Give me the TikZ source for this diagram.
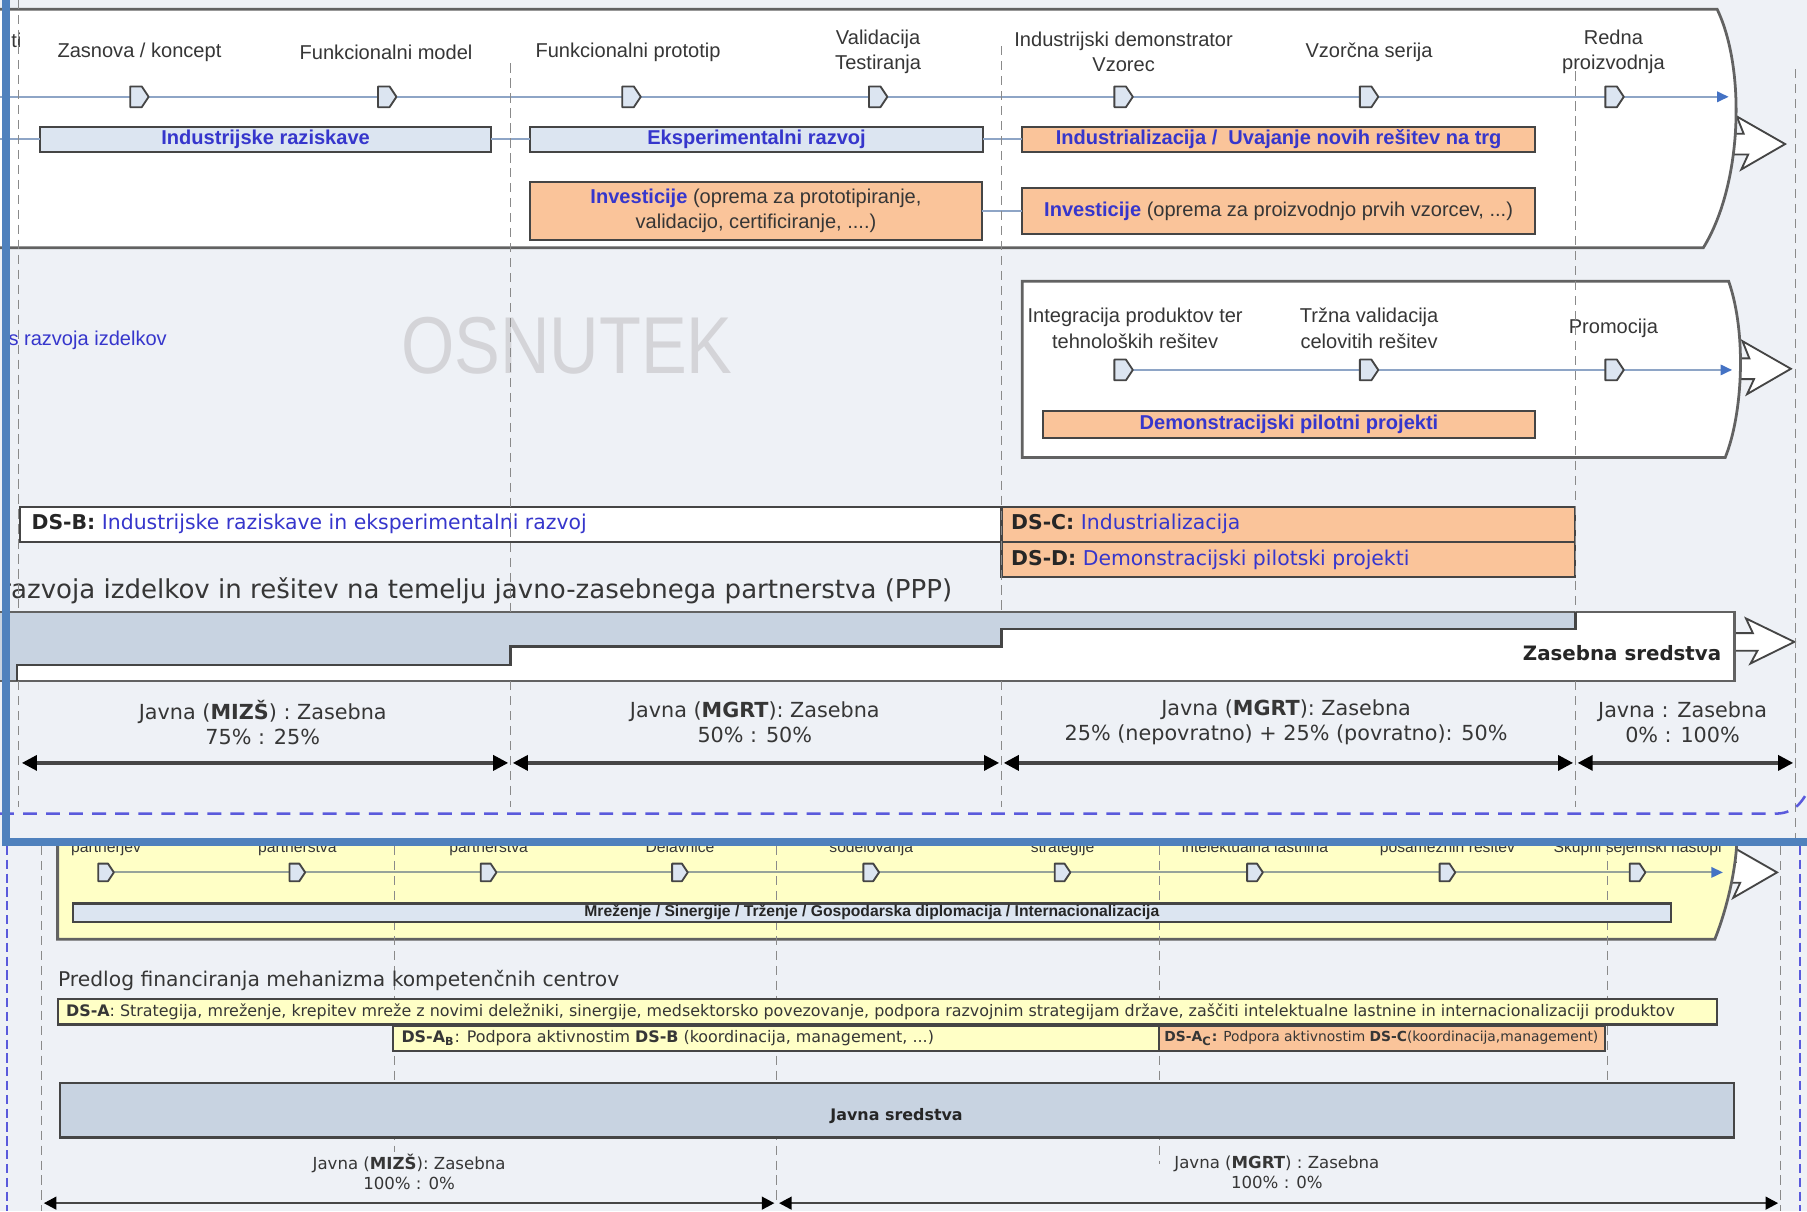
\documentclass[tikz,border=0pt]{standalone}
\usepackage{fontspec}
\setmainfont{Liberation Sans}
\newfontfamily\vf{DejaVu Sans}
\usetikzlibrary{arrows.meta}
\definecolor{bg}{HTML}{EEF1F6}
\definecolor{dk}{HTML}{454545}
\definecolor{bd}{HTML}{626262}
\definecolor{peach}{HTML}{FAC49A}
\definecolor{lbl}{HTML}{DCE5F1}
\definecolor{gb}{HTML}{C8D3E1}
\definecolor{bl}{HTML}{3636CC}
\definecolor{tx}{HTML}{363636}
\definecolor{tl}{HTML}{8EA5C6}
\definecolor{tlb}{HTML}{97A39A}
\definecolor{tla}{HTML}{4472C4}
\definecolor{frm}{HTML}{4F81BD}
\definecolor{vio}{HTML}{5A5ADC}
\definecolor{yel}{HTML}{FFFFC6}
\definecolor{dsh}{HTML}{8A8A8A}
\definecolor{wm}{HTML}{D4D4D8}
\tikzset{
  box/.style={draw=dk, line width=0.9pt, inner sep=0pt, outer sep=0pt},
  bigbox/.style={draw=bd, line width=1.2pt},
  mk/.style={draw=dk, fill=lbl, line width=0.8pt, line join=round},
  vd/.style={draw=dsh, line width=0.5pt, dash pattern=on 4pt off 2.5pt},
  bdash/.style={draw=vio, line width=1.1pt, dash pattern=on 4pt off 2pt},
  tline/.style={draw=tl, line width=0.9pt},
  tarr/.style={tline, -{Triangle[length=5pt,width=4.5pt,color=tla]}},
  darr/.style={draw=dk, line width=1.4pt, shorten <=1pt, shorten >=1pt, {Triangle[length=6.5pt,width=6.5pt,color=black]}-{Triangle[length=6.5pt,width=6.5pt,color=black]}},
  darrb/.style={draw=dk, line width=1.1pt, shorten <=1pt, shorten >=1pt, {Triangle[length=5.5pt,width=5.5pt,color=black]}-{Triangle[length=5.5pt,width=5.5pt,color=black]}},
  lab/.style={font=\fontsize{8.7}{11}\selectfont, text=tx, align=center, inner sep=0pt},
  slab/.style={font=\fontsize{6.8}{8}\selectfont, text=tx, inner sep=0pt, anchor=base},
  bbt/.style={font=\fontsize{8.7}{11}\selectfont\bfseries, text=bl},
  vft/.style={font=\vf\fontsize{9}{11}\selectfont, text=tx, align=center, inner sep=0pt},
  dst/.style={font=\vf\fontsize{8.85}{10}\selectfont, text=bl, anchor=west, inner sep=0pt},
  pics/msd/.style={code={\draw[mk] (-8,-9) -- (2,-9) -- (8,0) -- (2,9) -- (-8,9) -- cycle;}},
  pics/zarr/.style={code={\draw[fill=white, draw=dk, line width=0.8pt] (-30,-9) -- (16,-9) -- (10,-24) -- (52,0) -- (14,22) -- (20,9) -- (-30,9);}}
}
\begin{document}
\begin{tikzpicture}[x=0.5pt,y=-0.5pt]
\useasboundingbox (0,0) rectangle (1568,1051);
\fill[bg] (0,0) rectangle (1568,1051);

% ================= bottom image =================
\pic at (1490,757) {zarr};
\draw[bigbox, fill=yel] (50,690) -- (1504,690) .. controls (1514,730) and (1500,785) .. (1488,815) -- (50,815) -- cycle;
\foreach \x/\b in {36/1051,342/1000,674/1044,1006/1010,1395/940,1545/1051} \draw[vd] (\x,734) -- (\x,\b);
\foreach \x in {6,1562} \draw[bdash] (\x,734) -- (\x,1051);
\coordinate (t3s) at (92,757);
\coordinate (t3e) at (1495,757);
\draw[tarr, draw=tlb] (t3s) -- (t3e);
\foreach \x in {92,258,424,590,756,922,1089,1256,1421} \pic[scale=0.85] at (\x,757) {msd};
\node[slab] (b1) at (92,740) {partnerjev};
\node[slab] (b2) at (258,740) {partnerstva};
\node[slab] (b3) at (424,740) {partnerstva};
\node[slab] (b4) at (590,740) {Delavnice};
\node[slab] (b5) at (756,740) {sodelovanja};
\node[slab] (b6) at (922,740) {strategije};
\node[slab] (b7) at (1089,740) {intelektualna lastnina};
\node[slab] (b8) at (1256,740) {posameznih rešitev};
\node[slab] (b9) at (1421,740) {Skupni sejemski nastopi};
\node[box, fill=lbl, minimum width=693.5pt, minimum height=8pt, font=\fontsize{6.8}{8}\selectfont\bfseries, text=black!85] (mrez) at (756.5,792) {Mreženje / Sinergije / Trženje / Gospodarska diplomacija / Internacionalizacija};
\node[anchor=west, font=\vf\fontsize{8.8}{10}\selectfont, text=tx, inner sep=0pt] (pred) at (50,851) {Predlog financiranja mehanizma kompetenčnih centrov};
\node[box, fill=yel, minimum width=720pt, minimum height=11pt] (dsa) at (770,878) {};
\node[anchor=west, font=\vf\fontsize{6.9}{8}\selectfont, text=tx, inner sep=0pt] (dsat) at (57,878) {\textbf{DS-A}: Strategija, mreženje, krepitev mreže z novimi deležniki, sinergije, medsektorsko povezovanje, podpora razvojnim strategijam države, zaščiti intelektualne lastnine in internacionalizaciji produktov};
\node[box, fill=yel, minimum width=332.5pt, minimum height=11pt] (dsab) at (673.5,901) {};
\node[anchor=west, font=\vf\fontsize{6.9}{8}\selectfont, text=tx, inner sep=0pt] (dsabt) at (348,901) {\textbf{DS-A\textsubscript{B}}: Podpora aktivnostim \textbf{DS-B} (koordinacija, management, ...)};
\node[box, fill=peach, minimum width=193.5pt, minimum height=11pt] (dsac) at (1199.5,901) {};
\node[anchor=west, font=\vf\fontsize{6.0}{7}\selectfont, text=tx, inner sep=0pt] (dsact) at (1010,901) {\textbf{DS-A\textsubscript{C}:} Podpora aktivnostim \textbf{DS-C}(koordinacija,management)};
\node[box, fill=gb, minimum width=726.5pt, minimum height=23.5pt] (js) at (778.5,963.5) {};
\node[font=\vf\fontsize{6.9}{8}\selectfont\bfseries, text=black!85, inner sep=0pt] (jst) at (778,968) {Javna sredstva};
\node[vft, font=\vf\fontsize{7.2}{8.5}\selectfont] (bf1) at (355,1017) {Javna (\textbf{MIZŠ}): Zasebna\\100\% : 0\%};
\node[vft, font=\vf\fontsize{7.2}{8.5}\selectfont] (bf2) at (1108,1017) {Javna (\textbf{MGRT}) : Zasebna\\100\% : 0\%};
\coordinate (g0) at (36,1044);
\coordinate (g1) at (674,1044);
\coordinate (g2) at (1545,1044);
\draw[darrb] (g0) -- (g1);
\draw[darrb] (g1) -- (g2);

% ================= top image =================
\fill[bg] (0,0) rectangle (1568,731);
% box 1
\pic at (1497,125) {zarr};
\draw[bigbox, fill=white] (-5,8) -- (1490,8) .. controls (1515,60) and (1512,160) .. (1478,215) -- (-5,215);
\coordinate (t1s) at (0,84);
\coordinate (t1e) at (1500,84);
\draw[tarr] (t1s) -- (t1e);
\foreach \x in {121,336,548,762,975,1188,1401} \pic at (\x,84) {msd};
\node[lab, anchor=east] (ti) at (19,35) {ti};
\node[lab] (m1) at (121,45) {Zasnova / koncept};
\node[lab] (m2) at (335,45) {Funkcionalni model};
\node[lab] (m3) at (545,45) {Funkcionalni prototip};
\node[lab] (m4) at (762,45) {Validacija\\Testiranja};
\node[lab] (m5) at (975,45) {Industrijski demonstrator\\Vzorec};
\node[lab] (m6) at (1188,45) {Vzorčna serija};
\node[lab] (m7) at (1400,45) {Redna\\proizvodnja};
\node[box, fill=lbl, minimum width=195.5pt, minimum height=11pt, bbt] (ir) at (230.5,121) {Industrijske raziskave};
\node[box, fill=lbl, minimum width=196.5pt, minimum height=11pt, bbt] (er) at (656.5,121) {Eksperimentalni razvoj};
\node[box, fill=peach, minimum width=222.5pt, minimum height=11pt, bbt] (ind) at (1109.5,121) {Industrializacija /\ \ Uvajanje novih rešitev na trg};
\coordinate (l0) at (0,121);
\draw[tline] (l0) -- (ir.west);
\draw[tline] (ir.east) -- (er.west);
\draw[tline] (er.east) -- (ind.west);
\node[box, fill=peach, minimum width=196pt, minimum height=25pt, lab] (inv1) at (656,183) {{\bfseries\color{bl}Investicije} (oprema za prototipiranje,\\validacijo, certificiranje, ....)};
\node[box, fill=peach, minimum width=222.5pt, minimum height=20pt, lab] (inv2) at (1109.5,183) {{\bfseries\color{bl}Investicije} (oprema za proizvodnjo prvih vzorcev, ...)};
\draw[tline] (inv1.east) -- (inv2.west);

% box 2
\pic at (1502,320) {zarr};
\draw[bigbox, fill=white] (887,244) -- (1500,244) .. controls (1516,290) and (1512,360) .. (1497,397) -- (887,397) -- cycle;
\coordinate (t2s) at (975,321);
\coordinate (t2e) at (1503,321);
\draw[tarr] (t2s) -- (t2e);
\foreach \x in {975,1188,1401} \pic at (\x,321) {msd};
\node[lab] (p1) at (985,285) {Integracija produktov ter\\tehnoloških rešitev};
\node[lab] (p2) at (1188,285) {Tržna validacija\\celovitih rešitev};
\node[lab] (p3) at (1400,285) {Promocija};
\node[box, fill=peach, minimum width=213.5pt, minimum height=11.5pt, bbt] (dpp) at (1118.5,368.5) {Demonstracijski pilotni projekti};

\node[lab, anchor=west, text=bl] (lt) at (7,295) {s razvoja izdelkov};
\node[text=wm, font=\fontsize{35}{40}\selectfont, inner sep=0pt] (wmk) at (492,300) {\scalebox{0.85}[1]{OSNUTEK}};

% DS boxes
\node[box, fill=white, minimum width=426pt, minimum height=15pt] (dsb) at (443,455) {};
\node[box, fill=peach, minimum width=249pt, minimum height=15pt] (dsc) at (1118,455) {};
\node[box, fill=peach, minimum width=249pt, minimum height=15.5pt] (dsd) at (1118,485.5) {};
\node[dst] (dsbt) at (27,455) {\textcolor{black!85}{\bfseries DS-B:} Industrijske raziskave in eksperimentalni razvoj};
\node[dst] (dsct) at (877,455) {\textcolor{black!85}{\bfseries DS-C:} Industrializacija};
\node[dst] (dsdt) at (877,486) {\textcolor{black!85}{\bfseries DS-D:} Demonstracijski pilotski projekti};
\node[anchor=west, font=\vf\fontsize{11.3}{13}\selectfont, text=tx, inner sep=0pt] (ppp) at (0,513) {razvoja izdelkov in rešitev na temelju javno-zasebnega partnerstva (PPP)};

% funding shape
\pic[yscale=0.85] at (1505,557) {zarr};
\fill[gb] (-5,531) -- (1367,531) -- (1367,546) -- (869,546) -- (869,561) -- (443,561) -- (443,577) -- (15,577) -- (15,591) -- (-5,591) -- cycle;
\fill[white] (15,591) -- (15,577) -- (443,577) -- (443,561) -- (869,561) -- (869,546) -- (1367,546) -- (1367,531) -- (1505,531) -- (1505,591) -- cycle;
\draw[bigbox] (-5,531) -- (1505,531) -- (1505,591) -- (-5,591);
\draw[draw=dk, line width=1pt] (15,591) -- (15,577) -- (443,577) -- (443,561) -- (869,561) -- (869,546) -- (1367,546) -- (1367,531);
\node[anchor=east, font=\vf\fontsize{8.6}{10}\selectfont\bfseries, text=black!85, inner sep=0pt] (zs) at (1494,567) {Zasebna sredstva};

\node[vft] (fa) at (228,627) {Javna (\textbf{MIZŠ}) : Zasebna\\75\% : 25\%};
\node[vft] (fb) at (655,627) {Javna (\textbf{MGRT}): Zasebna\\50\% : 50\%};
\node[vft] (fc) at (1116,627) {Javna (\textbf{MGRT}): Zasebna\\25\% (nepovratno) + 25\% (povratno): 50\%};
\node[vft] (fd) at (1460,627) {Javna : Zasebna\\0\% : 100\%};
\coordinate (f0) at (17,662);
\coordinate (f1) at (443,662);
\coordinate (f2) at (869,662);
\coordinate (f3) at (1367,662);
\coordinate (f4) at (1558,662);
\draw[darr] (f0) -- (f1);
\draw[darr] (f1) -- (f2);
\draw[darr] (f2) -- (f3);
\draw[darr] (f3) -- (f4);

% dashed guides (top)
\foreach \x/\a in {16/0,443/55,869/40,1367/62} {
  \draw[vd] (\x,\a) -- (\x,531);
  \draw[vd] (\x,591) -- (\x,700);
}
\draw[vd] (1558,60) -- (1558,731);

\coordinate (v0) at (0,706);
\coordinate (v1) at (1568,688);
\draw[draw=vio, line width=1.1pt, dash pattern=on 6pt off 4pt] (v0) -- (1540,706) .. controls (1556,706) and (1562,698) .. (v1);

% frame
\fill[frm] (2,0) rectangle (9,734);
\fill[frm] (2,727) rectangle (1568,734);
\end{tikzpicture}
\end{document}
